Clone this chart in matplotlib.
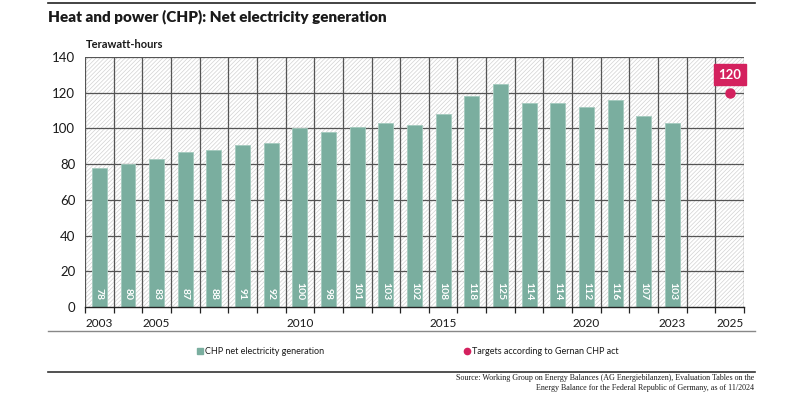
import matplotlib
matplotlib.use("Agg")
import matplotlib.pyplot as plt
from matplotlib.patches import Rectangle
from matplotlib.lines import Line2D
import numpy as np

years = list(range(2003, 2026))
chp_years = list(range(2003, 2024))
chp_values = [78, 80, 83, 87, 88, 91, 92, 100, 98, 101, 103, 102, 108, 118, 125, 114, 114, 112, 116, 107, 103]
target_year = 2025
target_value = 120
tick_years = [2003, 2005, 2010, 2015, 2020, 2023, 2025]
yticks = [0, 20, 40, 60, 80, 100, 120, 140]

title = "Heat and power (CHP): Net electricity generation"
unit = "Terawatt-hours"
legend_bar = "CHP net electricity generation"
legend_dot = "Targets according to Gernan CHP act"
source = ("Source: Working Group on Energy Balances (AG Energiebilanzen), Evaluation Tables on the\n"
          "Energy Balance for the Federal Republic of Germany, as of 11/2024")

BAR = "#7aae9f"
MAG = "#d4215e"
GRID = "#555555"
TXT = "#1a1a1a"

plt.rcParams['font.family'] = ['Lato', 'DejaVu Sans']
plt.rcParams['hatch.linewidth'] = 0.5

fig = plt.figure(figsize=(8, 4), dpi=100)
ax = fig.add_axes([85/800, 1-307/400, (744-85)/800, 250/400])

n = len(years)
ax.set_xlim(-0.5, n-0.5)
ax.set_ylim(0, 140)

# hatched background
bg = Rectangle((0, 0), 1, 1, transform=ax.transAxes, facecolor="white",
               edgecolor="#d2d2d2", hatch="////////", linewidth=0, zorder=0)
ax.add_patch(bg)

for yv in yticks[1:]:
    ax.axhline(yv, color=GRID, lw=0.9, zorder=1)
for b in np.arange(-0.5, n, 1.0):
    ax.axvline(b, color=GRID, lw=0.9, zorder=1)

xb = [years.index(y) for y in chp_years]
ax.bar(xb, chp_values, width=0.52, color=BAR, edgecolor="#a4cabe", linewidth=0.6, zorder=2)
for x, v in zip(xb, chp_values):
    ax.text(x, 3.8, str(v), rotation=270, ha="center", va="bottom", color="white",
            fontsize=7.5, fontweight="bold", zorder=3)

xt = years.index(target_year)
ax.plot([xt], [target_value], marker="o", ms=6.5, color=MAG, zorder=4, linestyle="none")
ax.text(xt, target_value + 10, str(target_value), ha="center", va="center", color="white",
        fontsize=9.5, fontweight="bold", zorder=5,
        bbox=dict(boxstyle="square,pad=0.35", facecolor=MAG, edgecolor=MAG))

for s in ["top", "right", "left"]:
    ax.spines[s].set_visible(False)
ax.spines["bottom"].set_color("#222222")
ax.spines["bottom"].set_linewidth(1.0)
ax.spines["bottom"].set_zorder(3)

ax.set_yticks(yticks)
ax.set_yticklabels([str(v) for v in yticks], fontsize=9.5, color=TXT)
ax.tick_params(axis="y", length=0, pad=7)
ax.set_xticks([years.index(y) for y in tick_years])
ax.set_xticklabels([str(y) for y in tick_years], fontsize=8.5, color=TXT)
ax.tick_params(axis="x", which="major", length=0, pad=8)
ax.set_xticks(np.arange(-0.5, n, 1.0), minor=True)
ax.tick_params(axis="x", which="minor", length=4, width=0.9, color="#222222", direction="out")

# title and rules
fig.add_artist(Line2D([48/800, 755/800], [1-3/400, 1-3/400], color="#222222", lw=1.2))
fig.text(48/800, 1-17/400, title, fontsize=11, fontweight="heavy", color=TXT, va="center", ha="left")
fig.text(86/800, 1-44/400, unit, fontsize=8, fontweight="bold", color=TXT, va="center", ha="left")
fig.add_artist(Line2D([48/800, 755/800], [1-331/400, 1-331/400], color="#888888", lw=1.0))
fig.add_artist(Line2D([48/800, 755/800], [1-372/400, 1-372/400], color="#333333", lw=1.2))

# legend
ly = 1-351/400
fig.add_artist(Line2D([200/800], [ly], marker="s", ms=4.5, color=BAR, linestyle="none"))
fig.text(205/800, ly, legend_bar, fontsize=6.5, color=TXT, va="center", ha="left")
fig.add_artist(Line2D([467/800], [ly], marker="o", ms=4.5, color=MAG, linestyle="none"))
fig.text(472/800, ly, legend_dot, fontsize=6.5, color=TXT, va="center", ha="left")

fig.text(754/800, 1-383/400, source, fontsize=5.8, family=["Liberation Serif", "DejaVu Serif"],
         color=TXT, va="center", ha="right", linespacing=1.35, multialignment="right")

fig.savefig("out.png", dpi=100)
